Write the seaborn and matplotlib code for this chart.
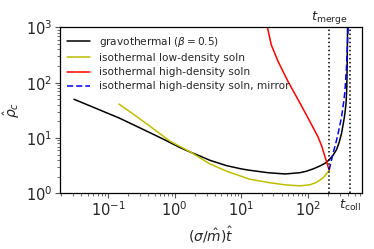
import numpy as np
import pandas as pd
import matplotlib
matplotlib.use("Agg")
import matplotlib.pyplot as plt
import seaborn as sns

# --- data ---
grav_t = [0.031, 0.06, 0.15, 0.4, 0.7, 1.2, 1.68, 2.5, 3.35, 6.0, 10, 13.3, 25, 45, 75, 94, 118, 149, 180, 206,
          236, 265, 290, 316, 340, 355, 370, 378, 383, 386, 389]
grav_rho = [50, 36, 22.7, 12.9, 9.3, 6.7, 5.6, 4.6, 3.95, 3.15, 2.75, 2.6, 2.35, 2.23, 2.35, 2.5, 2.75, 3.1, 3.5, 4.0,
            4.9, 6.1, 8.2, 12.2, 20, 28, 45, 80, 200, 500, 1200]

low_t = [0.146, 0.25, 0.42, 0.84, 1.68, 3.35, 6.0, 13.3, 26.5, 47, 75, 105, 130, 149, 167, 188, 199, 206]
low_rho = [41, 26, 16.5, 8.8, 5.66, 3.4, 2.5, 1.79, 1.55, 1.41, 1.36, 1.42, 1.55, 1.72, 1.9, 2.25, 2.45, 2.64]

high_t = [23.5, 24.5, 28, 35.5, 50, 72, 94, 118, 140, 160, 178, 194, 206]
high_rho = [1150, 1000, 480, 240, 104, 47, 26, 15.5, 10.5, 7.0, 4.6, 3.3, 2.64]

mirror_t = [206, 236, 265, 281, 316, 340, 355, 375, 390, 400]
mirror_rho = [2.64, 5.3, 9.0, 12.2, 24, 45, 70, 200, 600, 1200]

t_merge = 206
t_coll = 420

labels = ["gravothermal ($\\beta = 0.5$)",
          "isothermal low-density soln",
          "isothermal high-density soln",
          "isothermal high-density soln, mirror"]

sns.set_style("ticks")
plt.rcParams['font.family'] = ['DejaVu Sans']
plt.rcParams['mathtext.fontset'] = 'dejavusans'

fig = plt.figure(figsize=(3.74, 2.49), dpi=100)
ax = fig.add_axes([0.160, 0.224, 0.808, 0.666])

sns.lineplot(x=grav_t, y=grav_rho, ax=ax, color='k', lw=1.1, sort=False, label=labels[0])
sns.lineplot(x=low_t, y=low_rho, ax=ax, color='#bfbf00', lw=1.1, sort=False, label=labels[1])
sns.lineplot(x=high_t, y=high_rho, ax=ax, color='red', lw=1.1, sort=False, label=labels[2])
sns.lineplot(x=mirror_t, y=mirror_rho, ax=ax, color='blue', lw=1.1, sort=False, label=labels[3],
             linestyle=(0, (4, 2)))

ax.axvline(t_merge, color='k', ls=':', lw=1.1)
ax.axvline(t_coll, color='k', ls=':', lw=1.1)

ax.set_xscale('log')
ax.set_yscale('log')
ax.set_xlim(0.019, 640)
ax.set_ylim(1, 1000)

for s in ax.spines.values():
    s.set_visible(True)
    s.set_color('k')
    s.set_linewidth(0.9)

ax.tick_params(which='major', labelsize=10.5, length=3.5, width=0.8, color='#555555', pad=1.8)
ax.tick_params(which='minor', length=2, width=0.6, color='#555555')

ax.set_xlabel("$(\\sigma/\\hat{m})\\hat{t}$", fontsize=10)
ax.set_ylabel("$\\hat{\\rho}_c$", fontsize=10)
ax.xaxis.set_label_coords(0.5, -0.19)
ax.yaxis.set_label_coords(-0.125, 0.5)

ax.text(t_merge, 1.01, "$t_{\\rm merge}$", transform=ax.get_xaxis_transform(),
        ha='center', va='bottom', fontsize=9.5)
ax.text(t_coll, -0.03, "$t_{\\rm coll}$", transform=ax.get_xaxis_transform(),
        ha='center', va='top', fontsize=9.5)

ax.legend(loc='upper left', frameon=False, fontsize=7.6, handlelength=2.2,
          borderaxespad=0.3, labelspacing=0.4, bbox_to_anchor=(0.0, 1.0))

fig.savefig("out.png", dpi=100)
